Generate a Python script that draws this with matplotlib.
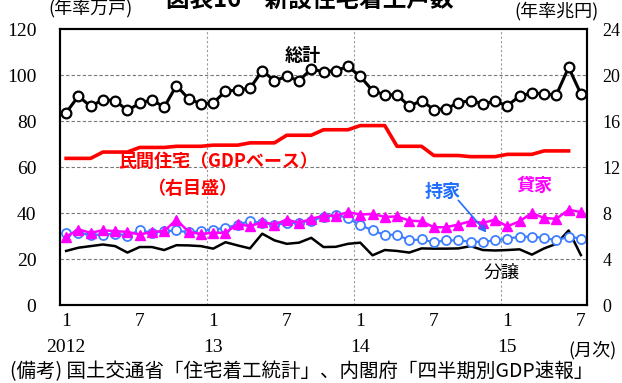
import numpy as np
import matplotlib
matplotlib.use("Agg")
import matplotlib.pyplot as plt
from matplotlib.transforms import blended_transform_factory

plt.rcParams['font.family'] = ['Liberation Serif', 'Noto Sans CJK JP']
JP = ['Noto Sans CJK JP', 'DejaVu Sans']

# monthly data, 2012/1 - 2015/7 (annualized, 10k units)
total = [83.6, 90.8, 86.4, 89.2, 88.9, 84.6, 87.7, 89.2, 86.0, 95.4, 89.6, 87.5,
         87.9, 92.9, 93.5, 94.2, 101.9, 97.5, 99.4, 97.5, 102.6, 101.4, 101.9, 103.7,
         99.4, 93.2, 91.4, 91.4, 86.4, 88.9, 85.0, 85.3, 87.9, 88.9, 87.5, 88.5,
         86.7, 90.8, 92.2, 91.8, 91.4, 103.3, 91.8]
owner = [31.1, 31.4, 30.4, 30.6, 31.0, 30.2, 32.5, 31.4, 32.1, 32.4, 31.6, 32.1,
         32.8, 33.5, 35.0, 36.4, 35.7, 34.7, 35.7, 35.7, 36.7, 38.3, 39.3, 37.8,
         34.7, 32.5, 30.4, 30.6, 28.1, 28.5, 27.3, 28.1, 28.1, 27.5, 27.5, 28.1,
         28.8, 29.7, 29.7, 29.2, 28.1, 29.7, 28.9]
rental = [29.7, 32.8, 31.4, 32.5, 32.1, 31.8, 30.6, 31.8, 32.1, 37.1, 31.8, 30.9,
          31.4, 31.4, 35.3, 34.2, 36.1, 35.0, 37.1, 35.7, 37.5, 38.8, 38.8, 40.4,
          39.3, 39.6, 38.3, 38.5, 36.7, 36.4, 33.8, 33.8, 35.0, 36.4, 35.7, 37.1,
          34.2, 36.4, 40.0, 37.8, 37.5, 41.4, 40.4]
for_sale = [23.5, 24.9, 25.6, 26.3, 25.6, 22.8, 25.2, 25.2, 23.9, 26.0, 25.9, 25.6,
            24.5, 27.3, 25.9, 24.6, 31.0, 28.1, 26.6, 27.1, 29.2, 25.2, 25.3, 26.6,
            27.1, 21.6, 23.9, 23.5, 22.8, 24.6, 24.5, 24.5, 24.6, 25.6, 23.9, 23.7,
            23.9, 24.2, 21.9, 24.6, 26.6, 32.4, 21.7]
# quarterly private residential investment (GDP basis, annualized trillion yen)
gdp_q = [12.75, 13.3, 13.7, 13.8, 13.9, 14.1, 14.76, 15.24, 15.6, 13.8, 13.0, 12.9, 13.1, 13.4]

month_labels = ['1', '7'] * 4
year_labels = ['2012', '13', '14', '15']

x = np.arange(len(total))
gdp_m = np.repeat(gdp_q, 3)
x_gdp = np.arange(len(gdp_m))

fig = plt.figure(figsize=(6.22, 3.83), dpi=100)
ax = fig.add_axes([60 / 622, 1 - 305 / 383, 527 / 622, 276 / 383])
ax.set_xlim(-0.5, len(total) - 0.5)
ax.set_ylim(0, 120)

for v in range(20, 120, 20):
    ax.axhline(v, color='#777777', lw=0.8, ls=(0, (3, 2)), zorder=0)
for b in (11.5, 23.5, 35.5):
    ax.axvline(b, color='#999999', lw=0.8, ls=(0, (2, 2)), zorder=0)

ax.plot(x, for_sale, color='black', lw=1.8, zorder=3)
ax.plot(x, owner, color='#3F7FFF', lw=1.6, marker='o', ms=6.5, mfc='white',
        mec='#3F7FFF', mew=1.3, zorder=4)
ax.plot(x, rental, color='#FF00FF', lw=1.8, marker='^', ms=7, mfc='#FF00FF',
        mec='#FF00FF', zorder=5)
ax.plot(x, total, color='black', lw=2.2, marker='o', ms=7, mfc='white',
        mec='black', mew=1.6, zorder=6)

ax2 = ax.twinx()
ax2.set_ylim(0, 24)
ax2.plot(x_gdp, gdp_m, color='#FF0000', lw=2.6)

for a in (ax, ax2):
    for s in a.spines.values():
        s.set_linewidth(1.5)
        s.set_color('black')

ax.set_yticks(range(0, 121, 20))
ax.tick_params(axis='y', length=0, pad=17, labelsize=14)
ax2.set_yticks(range(0, 25, 4))
ax2.tick_params(axis='y', length=0, pad=11, labelsize=13)
ax.set_xticks(range(0, len(total), 6))
ax.set_xticklabels(month_labels)
ax.tick_params(axis='x', length=0, pad=6, labelsize=14)

trans = blended_transform_factory(ax.transData, fig.transFigure)
for i, lab in enumerate(year_labels):
    ax.text(i * 12, 1 - 347 / 383, lab, transform=trans, ha='center',
            va='center', fontsize=14)
fig.text(593 / 622, 1 - 350 / 383, '(月次)', family=JP, fontsize=13,
         ha='center', va='center')

# series labels (drawn on the right-hand axes so they sit above the lines)
lab = dict(family=JP, fontsize=13, ha='center', va='center',
           transform=ax.transData, zorder=10)
ax2.text(19.3, 108.3, '総計', weight='bold', **lab)
ax2.text(12.4, 62.2, '民間住宅（GDPベース）', weight='bold', color='#FF0000', **lab)
ax2.text(10.3, 50.5, '（右目盛）', weight='bold', color='#FF0000', **lab)
ax2.text(30.7, 49.5, '持家', weight='bold', color='#1F6FFF', **lab)
ax2.text(38.2, 52.0, '貸家', weight='bold', color='#FF00FF', **lab)
ax2.text(35.5, 14.0, '分譲', **lab)
ax2.annotate('', xy=(34.3, 31.5), xytext=(32.0, 45.5),
             xycoords=ax.transData, textcoords=ax.transData,
             arrowprops=dict(arrowstyle='->', color='#1F6FFF', lw=1.2,
                             shrinkA=0, shrinkB=0))

fig.text(90 / 622, 1 - 8 / 383, '(年率万戸)', family=JP, fontsize=13,
         ha='center', va='center')
fig.text(557 / 622, 1 - 11 / 383, '(年率兆円)', family=JP, fontsize=13,
         ha='center', va='center')
fig.text(310 / 622, 1.0, '図表16　新設住宅着工戸数', family=JP, fontsize=17,
         weight='bold', ha='center', va='center')
fig.text(10 / 622, 1 - 372 / 383,
         '(備考) 国土交通省「住宅着工統計」、内閣府「四半期別GDP速報」',
         family=JP, fontsize=14, ha='left', va='center')

fig.savefig('out.png', dpi=100)
